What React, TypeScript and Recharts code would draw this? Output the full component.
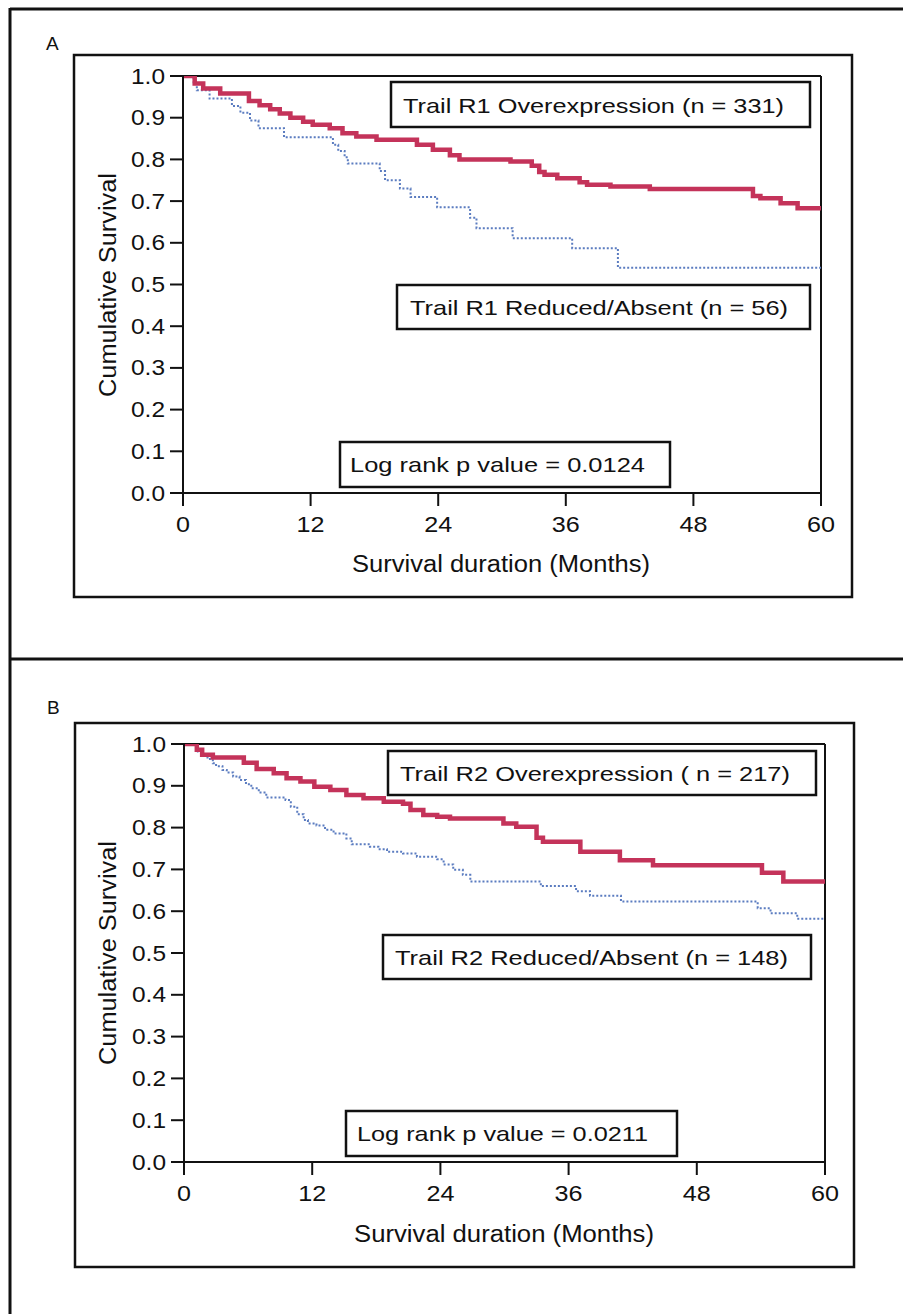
import React from "react";
import { LineChart, Line, XAxis, YAxis, ReferenceLine } from "recharts";

// ---------- data ----------
const monthTicks = [0, 12, 24, 36, 48, 60];
const survivalTicks = [0, 0.1, 0.2, 0.3, 0.4, 0.5, 0.6, 0.7, 0.8, 0.9, 1.0];

// Panel A – Trail R1 Overexpression (n = 331)
const aOverMonths = [0, 1.1, 1.9, 3.5, 6.2, 7.2, 8.2, 9.1, 10.1, 11.3, 12.2, 13.8, 15.0, 16.3, 18.2, 22.0, 23.5, 25.1, 26.0, 30.8, 32.8, 33.5, 34.0, 35.2, 37.3, 38.0, 40.2, 43.9, 53.6, 54.3, 56.2, 57.8, 60];
const aOverSurv = [1.0, 0.982, 0.97, 0.958, 0.94, 0.93, 0.92, 0.91, 0.9, 0.89, 0.883, 0.875, 0.863, 0.855, 0.847, 0.835, 0.823, 0.81, 0.8, 0.795, 0.785, 0.77, 0.763, 0.755, 0.745, 0.739, 0.735, 0.729, 0.712, 0.707, 0.695, 0.683, 0.683];

// Panel A – Trail R1 Reduced/Absent (n = 56)
const aRedMonths = [0, 1.0, 1.3, 2.5, 4.6, 5.4, 6.3, 7.1, 9.5, 14.1, 14.6, 15.2, 15.5, 18.5, 19.0, 20.4, 21.4, 23.9, 27.0, 27.6, 31.0, 36.6, 40.9, 60];
const aRedSurv = [1.0, 0.982, 0.966, 0.946, 0.928, 0.912, 0.893, 0.875, 0.853, 0.835, 0.82, 0.805, 0.79, 0.772, 0.75, 0.73, 0.71, 0.685, 0.66, 0.635, 0.611, 0.587, 0.54, 0.54];

// Panel B – Trail R2 Overexpression (n = 217)
const bOverMonths = [0, 1.2, 1.7, 2.7, 5.6, 6.8, 8.4, 9.6, 10.9, 12.2, 13.7, 15.2, 16.8, 18.7, 20.5, 21.2, 22.4, 23.7, 24.9, 29.9, 31.1, 33.0, 33.6, 37.1, 40.8, 43.9, 54.1, 56.1, 60];
const bOverSurv = [1.0, 0.986, 0.974, 0.968, 0.955, 0.94, 0.93, 0.918, 0.91, 0.898, 0.89, 0.878, 0.87, 0.862, 0.857, 0.842, 0.83, 0.826, 0.822, 0.81, 0.802, 0.776, 0.766, 0.742, 0.722, 0.71, 0.692, 0.671, 0.671];

// Panel B – Trail R2 Reduced/Absent (n = 148)
const bRedMonths = [0, 1.3, 1.6, 2.2, 2.7, 3.0, 3.6, 4.0, 4.6, 5.2, 5.8, 6.3, 7.0, 7.7, 9.5, 10.0, 10.6, 11.2, 11.6, 12.4, 13.2, 14.0, 15.2, 15.7, 17.4, 18.2, 19.0, 20.5, 21.8, 23.7, 24.3, 25.2, 26.1, 26.8, 33.4, 36.7, 38.0, 40.9, 53.7, 54.9, 57.4, 60];
const bRedSurv = [1.0, 0.982, 0.975, 0.964, 0.954, 0.947, 0.938, 0.932, 0.922, 0.914, 0.904, 0.894, 0.884, 0.872, 0.866, 0.85, 0.832, 0.818, 0.81, 0.805, 0.795, 0.786, 0.774, 0.76, 0.754, 0.748, 0.742, 0.738, 0.73, 0.724, 0.712, 0.699, 0.687, 0.671, 0.66, 0.648, 0.637, 0.623, 0.607, 0.595, 0.582, 0.582];

const panelLetters = ["A", "B"];
const overLabels = ["Trail R1 Overexpression (n = 331)", "Trail R2 Overexpression ( n = 217)"];
const reducedLabels = ["Trail R1 Reduced/Absent (n = 56)", "Trail R2 Reduced/Absent (n = 148)"];
const pValueLabels = ["Log rank p value = 0.0124", "Log rank p value = 0.0211"];
const xTitle = "Survival duration (Months)";
const yTitle = "Cumulative Survival";

// ---------- styles ----------
const FONT = "'Liberation Sans', Arial, Helvetica, sans-serif";
const RED = "#c4335a";
const BLUE = "#5b7cc0";
const INK = "#111";

function toPoints(months: number[], surv: number[]) {
  return months.map((m, i) => ({ month: m, surv: surv[i] }));
}

const YTick = (props: any) => {
  const { x, y, payload } = props;
  return (
    <text x={x} y={y} textAnchor="end" dominantBaseline="central" fontSize={22} fontFamily={FONT} fill={INK} textLength={34} lengthAdjust="spacingAndGlyphs">
      {Number(payload.value).toFixed(1)}
    </text>
  );
};

const XTick = (props: any) => {
  const { x, y, payload } = props;
  const s = String(payload.value);
  return (
    <text x={x} y={y + 22} textAnchor="middle" fontSize={22} fontFamily={FONT} fill={INK} textLength={s.length > 1 ? 28 : 14} lengthAdjust="spacingAndGlyphs">
      {s}
    </text>
  );
};

type PanelGeom = {
  top: number; height: number;
  plotLeft: number; plotRight: number; plotTop: number; plotBottom: number;
};

const YW = 80;
const XH = 60;

function SurvivalChart({ g, over, reduced }: { g: PanelGeom; over: any[]; reduced: any[] }) {
  const margin = {
    top: g.plotTop - g.top,
    left: g.plotLeft - YW,
    right: 903 - g.plotRight,
    bottom: g.top + g.height - g.plotBottom - XH,
  };
  return (
    <div style={{ position: "absolute", left: 0, top: g.top }}>
      <LineChart width={903} height={g.height} margin={margin}>
        <XAxis
          dataKey="month"
          type="number"
          domain={[0, 60]}
          ticks={monthTicks}
          tick={<XTick />}
          tickSize={13}
          tickMargin={4}
          height={XH}
          axisLine={{ stroke: INK, strokeWidth: 2 }}
          tickLine={{ stroke: INK, strokeWidth: 2 }}
          allowDataOverflow
        />
        <YAxis
          type="number"
          domain={[0, 1]}
          ticks={survivalTicks}
          tick={<YTick />}
          tickSize={13}
          tickMargin={5}
          width={YW}
          axisLine={{ stroke: INK, strokeWidth: 2 }}
          tickLine={{ stroke: INK, strokeWidth: 2 }}
          allowDataOverflow
        />
        <ReferenceLine y={1} stroke={INK} strokeWidth={2} />
        <ReferenceLine x={60} stroke={INK} strokeWidth={2} />
        <Line
          data={reduced}
          dataKey="surv"
          type="stepAfter"
          stroke={BLUE}
          strokeWidth={2}
          strokeDasharray="2 2"
          dot={false}
          isAnimationActive={false}
        />
        <Line
          data={over}
          dataKey="surv"
          type="stepAfter"
          stroke={RED}
          strokeWidth={4.5}
          dot={false}
          isAnimationActive={false}
        />
      </LineChart>
    </div>
  );
}

function BoxLabel({ x, y, w, h, text, tx, tl, baseline }: any) {
  return (
    <g>
      <rect x={x} y={y} width={w} height={h} fill="#fff" stroke={INK} strokeWidth={2.5} />
      <text x={tx} y={baseline} fontSize={21} fontFamily={FONT} fill={INK} textLength={tl} lengthAdjust="spacingAndGlyphs">
        {text}
      </text>
    </g>
  );
}

const geomA: PanelGeom = { top: 0, height: 655, plotLeft: 183, plotRight: 821, plotTop: 76, plotBottom: 493 };
const geomB: PanelGeom = { top: 655, height: 659, plotLeft: 184, plotRight: 825, plotTop: 744, plotBottom: 1162 };

export default function App() {
  const aOver = toPoints(aOverMonths, aOverSurv);
  const aRed = toPoints(aRedMonths, aRedSurv);
  const bOver = toPoints(bOverMonths, bOverSurv);
  const bRed = toPoints(bRedMonths, bRedSurv);
  return (
    <div style={{ position: "absolute", left: 0, top: 0, width: 903, height: 1314, background: "#fff", overflow: "hidden" }}>
      <SurvivalChart g={geomA} over={aOver} reduced={aRed} />
      <SurvivalChart g={geomB} over={bOver} reduced={bRed} />
      <svg width={903} height={1314} style={{ position: "absolute", left: 0, top: 0, pointerEvents: "none" }}>
        {/* outer frame */}
        <line x1={10} y1={9} x2={903} y2={9} stroke={INK} strokeWidth={3} />
        <line x1={10} y1={8} x2={10} y2={1314} stroke={INK} strokeWidth={3} />
        <line x1={10} y1={659} x2={903} y2={659} stroke={INK} strokeWidth={3} />

        {/* Panel A */}
        <text x={46} y={50} fontSize={19} fontFamily={FONT} fill={INK}>{panelLetters[0]}</text>
        <rect x={74} y={55} width={778} height={542} fill="none" stroke={INK} strokeWidth={2.5} />
        <BoxLabel x={391} y={82} w={419} h={45} text={overLabels[0]} tx={403} tl={381} baseline={113} />
        <BoxLabel x={397} y={285} w={413} h={44} text={reducedLabels[0]} tx={410} tl={378} baseline={315} />
        <BoxLabel x={340} y={442} w={330} h={45} text={pValueLabels[0]} tx={350} tl={295} baseline={472} />
        <text x={501} y={572} textAnchor="middle" fontSize={23} fontFamily={FONT} fill={INK} textLength={298} lengthAdjust="spacingAndGlyphs">{xTitle}</text>
        <text x={0} y={0} transform="translate(116,285) rotate(-90)" textAnchor="middle" fontSize={23} fontFamily={FONT} fill={INK} textLength={224} lengthAdjust="spacingAndGlyphs">{yTitle}</text>

        {/* Panel B */}
        <text x={47} y={714} fontSize={19} fontFamily={FONT} fill={INK}>{panelLetters[1]}</text>
        <rect x={75} y={723} width={779} height={544} fill="none" stroke={INK} strokeWidth={2.5} />
        <BoxLabel x={388} y={751} w={428} h={44} text={overLabels[1]} tx={400} tl={390} baseline={781} />
        <BoxLabel x={383} y={935} w={428} h={44} text={reducedLabels[1]} tx={395} tl={393} baseline={965} />
        <BoxLabel x={346} y={1111} w={331} h={45} text={pValueLabels[1]} tx={357} tl={291} baseline={1141} />
        <text x={504} y={1242} textAnchor="middle" fontSize={23} fontFamily={FONT} fill={INK} textLength={300} lengthAdjust="spacingAndGlyphs">{xTitle}</text>
        <text x={0} y={0} transform="translate(116,953) rotate(-90)" textAnchor="middle" fontSize={23} fontFamily={FONT} fill={INK} textLength={224} lengthAdjust="spacingAndGlyphs">{yTitle}</text>
      </svg>
    </div>
  );
}
